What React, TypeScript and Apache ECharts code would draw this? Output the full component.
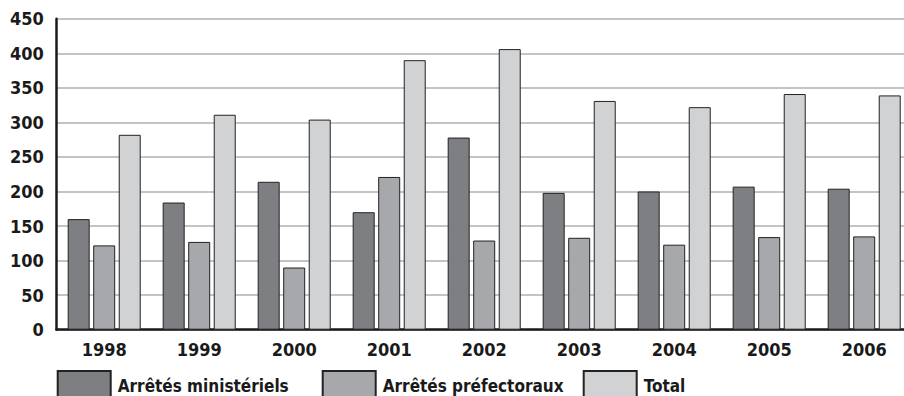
import React, { useEffect, useRef } from "react";
import * as echarts from "echarts";

const years = ["1998", "1999", "2000", "2001", "2002", "2003", "2004", "2005", "2006"];
const ministeriels = [160, 184, 214, 170, 278, 198, 200, 207, 204];
const prefectoraux = [122, 127, 90, 221, 129, 133, 123, 134, 135];
const total = [282, 311, 304, 390, 406, 331, 322, 341, 339];
const seriesNames = ["Arrêtés ministériels", "Arrêtés préfectoraux", "Total"];
const colors = ["#7e7f83", "#a7a8ab", "#d1d2d4"];

const FONT = "'Liberation Sans Narrow', 'DejaVu Sans Condensed', 'Liberation Sans', sans-serif";

export default function App() {
  const ref = useRef<HTMLDivElement>(null);
  useEffect(() => {
    if (!ref.current) return;
    const chart = echarts.init(ref.current, null, { renderer: "svg" });
    const dataSets = [ministeriels, prefectoraux, total];
    const legendLefts = [56.7, 321.7, 582.7];
    chart.setOption({
      animation: false,
      backgroundColor: "#ffffff",
      textStyle: { fontFamily: FONT },
      grid: {
        left: 56.7,
        top: 18.7,
        height: 311,
        width: 855,
        containLabel: false,
        outerBoundsMode: "none",
      },
      legend: seriesNames.map((n, i) => ({
        data: [n],
        left: legendLefts[i],
        top: 370,
        padding: 0,
        itemWidth: 53,
        itemHeight: 30,
        itemGap: 6,
        icon: "rect",
        textStyle: { fontFamily: FONT, fontWeight: "bold", fontSize: 17, color: "#1a1a1a", padding: [0, 0, 0, 2] },
      })),
      xAxis: {
        type: "category",
        data: years,
        axisLine: { show: true, lineStyle: { color: "#1a1a1a", width: 2.5 } },
        axisTick: { show: false },
        axisLabel: { fontFamily: FONT, fontWeight: "bold", fontSize: 18, color: "#1a1a1a", margin: 11 },
      },
      yAxis: {
        type: "value",
        min: 0,
        max: 450,
        interval: 50,
        axisLine: { show: true, lineStyle: { color: "#1a1a1a", width: 2.5 } },
        axisTick: { show: false },
        axisLabel: { fontFamily: FONT, fontWeight: "bold", fontSize: 18, color: "#1a1a1a", margin: 13 },
        splitLine: { show: true, lineStyle: { color: "#b0b0b0", width: 1.5 } },
      },
      series: seriesNames.map((n, i) => ({
        name: n,
        type: "bar",
        data: dataSets[i],
        barWidth: 22,
        barGap: "16%",
        itemStyle: { color: colors[i], borderColor: "#222222", borderWidth: 1 },
      })),
    });
    return () => chart.dispose();
  }, []);
  return <div ref={ref} style={{ position: "fixed", left: 0, top: 0, width: 904, height: 396 }} />;
}
